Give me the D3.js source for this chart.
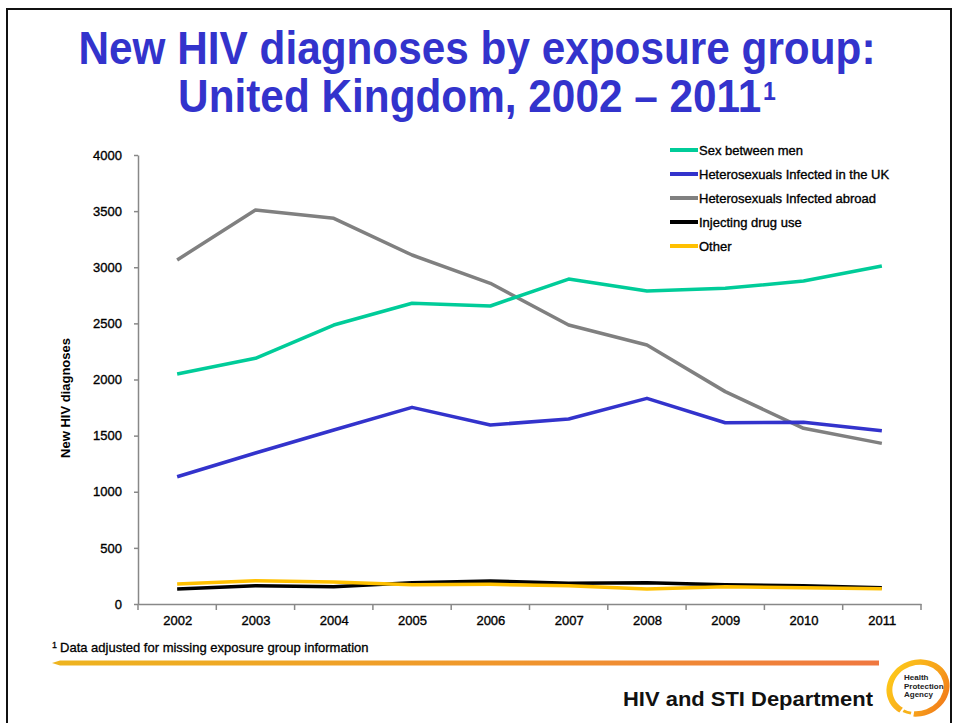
<!DOCTYPE html>
<html>
<head>
<meta charset="utf-8">
<script src="https://cdn.jsdelivr.net/npm/d3@7"></script>
<style>
  html, body { margin: 0; padding: 0; background: #fff; }
  svg { display: block; }
  text { font-family: "Liberation Sans", Arial, sans-serif; }
</style>
</head>
<body>
<svg id="chart" width="955" height="723"></svg>
<script>
// ---- Data ----
const years = ["2002","2003","2004","2005","2006","2007","2008","2009","2010","2011"];
const sexBetweenMen = [2049, 2189, 2485, 2679, 2655, 2895, 2788, 2812, 2877, 3011];
const heteroUK      = [1134, 1345, 1550, 1752, 1595, 1648, 1832, 1615, 1620, 1544];
const heteroAbroad  = [3065, 3510, 3436, 3109, 2857, 2485, 2307, 1892, 1565, 1431];
const injectingDrug = [134, 163, 154, 190, 205, 184, 190, 172, 163, 145];
const other         = [178, 208, 196, 172, 175, 163, 134, 154, 145, 136];
const seriesNames   = ["Sex between men", "Heterosexuals Infected in the UK", "Heterosexuals Infected abroad", "Injecting drug use", "Other"];
const seriesColors  = ["#00cc99", "#3333cc", "#808080", "#000000", "#ffc000"];
const yTicks        = [0, 500, 1000, 1500, 2000, 2500, 3000, 3500, 4000];
const titleLine1    = "New HIV diagnoses by exposure group:";
const titleLine2    = "United Kingdom, 2002 \u2013 2011";
const yAxisTitle    = "New HIV diagnoses";
const footnote      = "Data adjusted for missing exposure group information";
const department    = "HIV and STI Department";

const seriesValues = [sexBetweenMen, heteroUK, heteroAbroad, injectingDrug, other];

const svg = d3.select("#chart");

// ---- Slide frame ----
svg.append("path")
  .attr("d", "M7,723 L7,9 L951,9 L951,723")
  .attr("fill", "none").attr("stroke", "#111").attr("stroke-width", 2);

// ---- Title ----
const tcol = "#3333cc";
const tg1 = svg.append("g").attr("transform", "translate(477,64) scale(0.92,1)");
tg1.append("text").attr("text-anchor", "middle").attr("font-size", 46).attr("font-weight", "bold")
  .attr("fill", tcol).text(titleLine1);
const tg2 = svg.append("g").attr("transform", "translate(477,112) scale(0.92,1)");
const t2 = tg2.append("text").attr("text-anchor", "middle").attr("font-size", 46).attr("font-weight", "bold")
  .attr("fill", tcol);
t2.append("tspan").text(titleLine2);
t2.append("tspan").attr("font-size", 25).attr("dy", -12).attr("dx", 2).text("1");

// ---- Scales ----
const xLeft = 138, xRight = 921, yTop = 155, yBottom = 604;
const x = d3.scalePoint().domain(years).range([xLeft, xRight]).padding(0.5);
const y = d3.scaleLinear().domain([0, 4000]).range([yBottom, yTop]);

const axisColor = "#888";
const labelStyle = sel => sel.attr("fill", "#000").attr("font-size", 13)
  .attr("stroke", "#000").attr("stroke-width", 0.35)
  .attr("font-family", "'Liberation Sans', Arial, sans-serif");

// Y axis
const yAxis = svg.append("g").attr("transform", `translate(${xLeft},0)`)
  .call(d3.axisLeft(y).tickValues(yTicks).tickSize(4).tickSizeOuter(0).tickPadding(12).tickFormat(d3.format("d")));
yAxis.select(".domain").attr("stroke", axisColor).attr("stroke-width", 1.5);
yAxis.selectAll(".tick line").attr("stroke", axisColor).attr("stroke-width", 1.5);
yAxis.selectAll(".tick text").call(labelStyle);

// X axis
const xAxis = svg.append("g").attr("transform", `translate(0,${yBottom})`)
  .call(d3.axisBottom(x).tickSize(0).tickSizeOuter(0).tickPadding(12));
xAxis.select(".domain").attr("stroke", axisColor).attr("stroke-width", 1.5);
xAxis.selectAll(".tick text").call(labelStyle);
const step = x.step();
const boundaries = years.map(yr => x(yr) - step / 2).concat([x(years[years.length - 1]) + step / 2]);
xAxis.selectAll(".bticks").data(boundaries).enter().append("line")
  .attr("x1", d => d).attr("x2", d => d).attr("y1", 0).attr("y2", 6)
  .attr("stroke", axisColor).attr("stroke-width", 1.5);

// Y axis title
svg.append("text").attr("transform", "translate(70,398) rotate(-90)")
  .attr("text-anchor", "middle").attr("font-size", 13).attr("font-weight", "bold")
  .attr("fill", "#000").text(yAxisTitle);

// ---- Lines ----
const line = d3.line().x((d, i) => x(years[i])).y(d => y(d));
const drawOrder = [3, 4, 2, 1, 0];
drawOrder.forEach(si => {
  svg.append("path").datum(seriesValues[si])
    .attr("d", line).attr("fill", "none")
    .attr("stroke", seriesColors[si]).attr("stroke-width", 3.5)
    .attr("stroke-linejoin", "round");
});

// ---- Legend ----
const legend = svg.append("g").attr("transform", "translate(670,150)");
seriesNames.forEach((name, i) => {
  const row = legend.append("g").attr("transform", `translate(0,${i * 24})`);
  row.append("line").attr("x1", 0).attr("x2", 28).attr("y1", 0).attr("y2", 0)
    .attr("stroke", seriesColors[i]).attr("stroke-width", 4);
  row.append("text").attr("x", 29).attr("y", 0).attr("dy", "0.35em")
    .call(labelStyle).attr("font-size", 13).text(name);
});

// ---- Footnote ----
const fn = svg.append("text").attr("x", 52).attr("y", 652).attr("font-size", 13)
  .attr("fill", "#000").attr("stroke", "#000").attr("stroke-width", 0.3);
fn.append("tspan").attr("font-size", 9).attr("dy", -4).text("1");
fn.append("tspan").attr("dy", 4).attr("dx", 3).text(footnote);

// ---- Footer gradient bar ----
const defs = svg.append("defs");
const grad = defs.append("linearGradient").attr("id", "barGrad").attr("x1", "0%").attr("x2", "100%");
grad.append("stop").attr("offset", "0%").attr("stop-color", "#eeb41f");
grad.append("stop").attr("offset", "55%").attr("stop-color", "#f0962c");
grad.append("stop").attr("offset", "100%").attr("stop-color", "#f07840");
svg.append("path").attr("d", "M52,663 L60,660.5 L879,660.5 L879,665.5 L60,665.5 Z").attr("fill", "url(#barGrad)");

// ---- Department ----
svg.append("text").attr("x", 623).attr("y", 706).attr("font-family", "Lato, 'Open Sans', sans-serif")
  .attr("font-weight", "bold").attr("font-size", 21).attr("fill", "#111")
  .attr("textLength", 250).attr("lengthAdjust", "spacingAndGlyphs").text(department);

// ---- Logo ----
const ringGrad = defs.append("linearGradient").attr("id", "ringGrad")
  .attr("x1", "0%").attr("y1", "0%").attr("x2", "100%").attr("y2", "100%");
ringGrad.append("stop").attr("offset", "0%").attr("stop-color", "#ffd21a");
ringGrad.append("stop").attr("offset", "60%").attr("stop-color", "#f7a21a");
ringGrad.append("stop").attr("offset", "100%").attr("stop-color", "#ef6a1a");
const logo = svg.append("g").attr("transform", "translate(918,688) rotate(-20)");
logo.append("path")
  .attr("d", d3.arc().innerRadius(26).outerRadius(32).startAngle(-2.2).endAngle(3.6)())
  .attr("fill", "url(#ringGrad)").attr("transform", "scale(1,0.88)");
logo.append("path")
  .attr("d", d3.arc().innerRadius(27).outerRadius(30).startAngle(3.7).endAngle(4.0)())
  .attr("fill", "#f7b21a").attr("transform", "scale(1,0.88)");
const logoText = svg.append("g").attr("transform", "translate(904,680)");
["Health", "Protection", "Agency"].forEach((t, i) => {
  logoText.append("text").attr("x", 0).attr("y", i * 8.5).attr("font-size", 8)
    .attr("font-weight", "bold").attr("fill", "#222").text(t);
});
</script>
</body>
</html>
